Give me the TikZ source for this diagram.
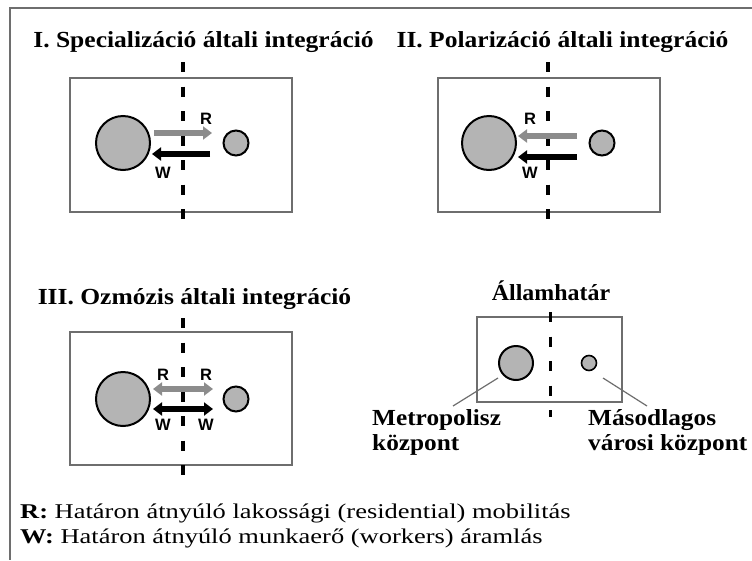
\documentclass[tikz,border=0pt]{standalone}
\usepackage{fontspec}
\setmainfont{Liberation Serif}
\newfontfamily\arialfont{Liberation Sans}
\usetikzlibrary{arrows.meta}
\definecolor{boxgray}{HTML}{6E6E6E}
\definecolor{cityfill}{HTML}{B4B4B4}
\definecolor{flowgray}{HTML}{8C8C8C}
\newcommand{\hstretch}[2]{\scalebox{#1}[1]{#2}}
\begin{document}
\begin{tikzpicture}[x=1pt,y=-1pt,
  outerframe/.style={draw=boxgray, line width=1.8pt},
  panelbox/.style={draw=boxgray, line width=1.8pt},
  borderline/.style={draw=black, line width=3.5pt, dash pattern=on 10pt off 14.5pt},
  bigcity/.style={circle, draw=black, line width=2pt, fill=cityfill, inner sep=0pt, minimum size=54pt},
  smallcity/.style={circle, draw=black, line width=2pt, fill=cityfill, inner sep=0pt, minimum size=25pt},
  flowR/.style={draw=flowgray, line width=6pt, -{Triangle[length=9pt,width=13pt]}},
  flowRR/.style={draw=flowgray, line width=6pt, {Triangle[length=9pt,width=13pt]}-{Triangle[length=9pt,width=13pt]}},
  flowW/.style={draw=black, line width=6pt, -{Triangle[length=9pt,width=13pt]}},
  flowWW/.style={draw=black, line width=6pt, {Triangle[length=9pt,width=13pt]}-{Triangle[length=9pt,width=13pt]}},
  flowlabel/.style={font=\arialfont\bfseries\fontsize{16.5}{16.5}\selectfont, inner sep=0pt},
  title/.style={font=\bfseries\fontsize{23}{26}\selectfont, inner sep=0pt, anchor=base},
  citylabel/.style={font=\bfseries\fontsize{23}{25}\selectfont, align=left, anchor=north west, inner sep=0pt},
  keytext/.style={font=\fontsize{21}{24}\selectfont, inner sep=0pt, anchor=base west},
  pointer/.style={draw=boxgray, line width=1.2pt}
]
\useasboundingbox (0,0) rectangle (752,560);
% outer frame (cropped at right and bottom)
\draw[outerframe] (752,8) -- (10,8) -- (10,560);

% ---------- Panel I ----------
\node[title] (t1) at (203.5,47) {\hstretch{1.11}{I. Specializáció általi integráció}};
\draw[panelbox] (70,78) rectangle (292,212);
\coordinate (b1top) at (183,62);
\coordinate (b1bot) at (183,224);
\draw[borderline] (b1top) -- (b1bot);
\node[bigcity] (m1) at (123,143) {};
\node[smallcity] (s1) at (236,143) {};
\coordinate (r1a) at (154,133);
\coordinate (r1b) at (212,133);
\coordinate (w1a) at (210,154);
\coordinate (w1b) at (152,154);
\draw[flowR] (r1a) -- (r1b);
\draw[flowW] (w1a) -- (w1b);
\node[flowlabel] (lr1) at (206,119) {R};
\node[flowlabel] (lw1) at (163,173) {W};

% ---------- Panel II ----------
\node[title] (t2) at (562.5,47) {\hstretch{1.11}{II. Polarizáció általi integráció}};
\draw[panelbox] (438,78) rectangle (660,212);
\coordinate (b2top) at (548,62);
\coordinate (b2bot) at (548,224);
\draw[borderline] (b2top) -- (b2bot);
\node[bigcity] (m2) at (489,143) {};
\node[smallcity] (s2) at (602,143) {};
\coordinate (r2a) at (577,136);
\coordinate (r2b) at (518,136);
\coordinate (w2a) at (577,157);
\coordinate (w2b) at (518,157);
\draw[flowR] (r2a) -- (r2b);
\draw[flowW] (w2a) -- (w2b);
\node[flowlabel] (lr2) at (530,119) {R};
\node[flowlabel] (lw2) at (530,173) {W};

% ---------- Panel III ----------
\node[title] (t3) at (194.5,304) {\hstretch{1.11}{III. Ozmózis általi integráció}};
\draw[panelbox] (70,332) rectangle (292,465);
\coordinate (b3top) at (183,318);
\coordinate (b3bot) at (183,478);
\draw[borderline] (b3top) -- (b3bot);
\node[bigcity] (m3) at (123,399) {};
\node[smallcity] (s3) at (236,399) {};
\coordinate (r3a) at (153,389);
\coordinate (r3b) at (213,389);
\coordinate (w3a) at (153,409);
\coordinate (w3b) at (213,409);
\draw[flowRR] (r3a) -- (r3b);
\draw[flowWW] (w3a) -- (w3b);
\node[flowlabel] (lr3a) at (163,375) {R};
\node[flowlabel] (lr3b) at (206,375) {R};
\node[flowlabel] (lw3a) at (163,425) {W};
\node[flowlabel] (lw3b) at (206,425) {W};

% ---------- Key panel ----------
\node[title] (t4) at (551,300) {\hstretch{1.04}{Államhatár}};
\draw[panelbox, line width=1.5pt] (477,317) rectangle (622,402);
\coordinate (b4top) at (550,312);
\coordinate (b4bot) at (550,417);
\draw[borderline, line width=3pt] (b4top) -- (b4bot);
\node[circle, draw=black, line width=2pt, fill=cityfill, inner sep=0pt, minimum size=34pt] (m4) at (516,363) {};
\node[circle, draw=black, line width=1.6pt, fill=cityfill, inner sep=0pt, minimum size=15pt] (s4) at (589,363) {};
\coordinate (p1a) at (498,378);
\coordinate (p1b) at (453,406);
\coordinate (p2a) at (603,378);
\coordinate (p2b) at (647,406);
\draw[pointer] (p1a) -- (p1b);
\draw[pointer] (p2a) -- (p2b);
\node[citylabel] (lab1) at (372,409) {\hstretch{1.1}{Metropolisz}\\\hstretch{1.1}{központ}};
\node[citylabel] (lab2) at (588,409) {\hstretch{1.1}{Másodlagos}\\\hstretch{1.1}{városi központ}};

% ---------- Key text ----------
\node[keytext] (k1) at (20,518) {\hstretch{1.26}{\textbf{R:} Határon átnyúló lakossági (residential) mobilitás}};
\node[keytext] (k2) at (20,543) {\hstretch{1.26}{\textbf{W:} Határon átnyúló munkaerő (workers) áramlás}};
\end{tikzpicture}
\end{document}
